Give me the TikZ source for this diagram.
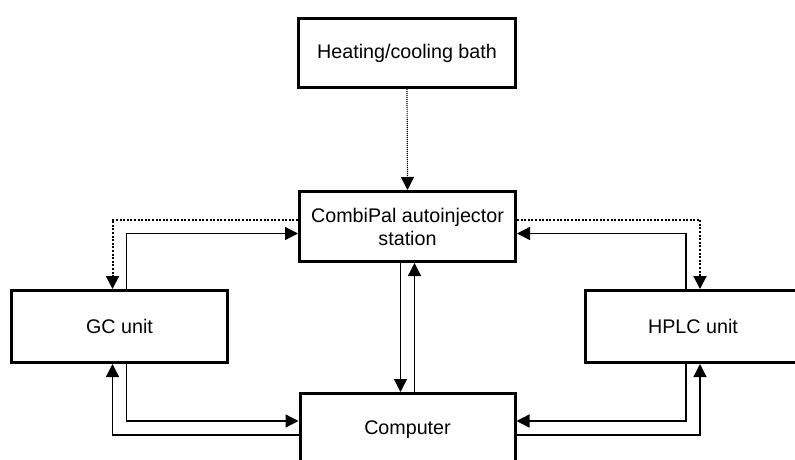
\documentclass[tikz,border=0pt]{standalone}
\usepackage{fontspec}
\setmainfont{Liberation Sans}
\usetikzlibrary{arrows.meta}
\begin{document}
\begin{tikzpicture}[x=1pt,y=-1pt,
  box/.style={draw,line width=3pt,minimum width=216pt,minimum height=70pt,
    inner sep=0pt,align=center,font=\fontsize{19.7}{23}\selectfont},
  conn/.style={line width=1.3pt,-{Triangle[length=13pt,width=13pt]}},
  dotconn/.style={conn,line width=2pt,dash pattern=on 2pt off 1.6pt},
  thindot/.style={conn,line width=1.2pt,dash pattern=on 1pt off 1pt}]
\path[use as bounding box,clip] (0,0) rectangle (795,460);
\node[box,minimum width=217pt,minimum height=69pt] (heat) at (407,53) {Heating/cooling bath};
\node[box] (cp) at (407.5,226.5) {CombiPal autoinjector\\station};
\node[box,minimum height=72pt] (gc) at (119.5,326.5) {GC unit};
\node[box,minimum height=72pt] (hplc) at (693,326.5) {HPLC unit};
\node[box,minimum width=215pt,minimum height=72pt] (comp) at (407.5,429.5) {Computer};
% top
\draw[thindot] (heat.south) -- (cp.north);
% GC <-> CombiPal
\draw[dotconn] ([yshift=7pt]cp.west) -| ([xshift=-7pt]gc.north);
\draw[conn] ([xshift=7pt]gc.north) |- ([yshift=-7pt]cp.west);
% HPLC <-> CombiPal
\draw[dotconn] ([yshift=7pt]cp.east) -| ([xshift=7pt]hplc.north);
\draw[conn] ([xshift=-7pt]hplc.north) |- ([yshift=-7pt]cp.east);
% CombiPal <-> Computer
\draw[conn] ([xshift=-7pt]cp.south) -- ([xshift=-7pt]comp.north);
\draw[conn] ([xshift=7pt]comp.north) -- ([xshift=7pt]cp.south);
% GC <-> Computer
\draw[conn] ([xshift=7pt]gc.south) |- ([yshift=8.5pt]comp.west);
\draw[conn] ([yshift=-5.5pt]comp.west) -| ([xshift=-7pt]gc.south);
% HPLC <-> Computer
\draw[conn] ([xshift=-7pt]hplc.south) |- ([yshift=8.5pt]comp.east);
\draw[conn] ([yshift=-5.5pt]comp.east) -| ([xshift=7pt]hplc.south);
\end{tikzpicture}
\end{document}
